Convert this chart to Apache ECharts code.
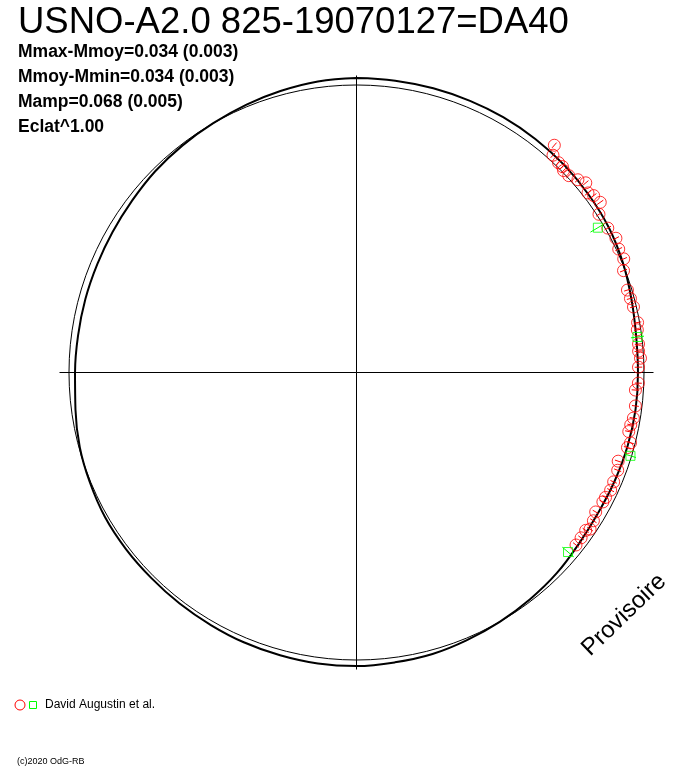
<!DOCTYPE html>
<html><head><meta charset="utf-8">
<script src="https://cdn.jsdelivr.net/npm/echarts@6/dist/echarts.min.js"></script>
<style>html,body{margin:0;padding:0;background:#fff;}#c{width:688px;height:768px;}</style>
</head><body><div id="c"></div>
<script>
// ---- texts ----
const titleText = 'USNO-A2.0 825-19070127=DA40';
const statLines = ['Mmax-Mmoy=0.034 (0.003)', 'Mmoy-Mmin=0.034 (0.003)', 'Mamp=0.068 (0.005)', 'Eclat^1.00'];
const legendLabel = 'David Augustin et al.';
const copyright = '(c)2020 OdG-RB';
const watermark = 'Provisoire';

// ---- fitted light curve (phase, relative brightness) ----
const lcPhase  = [0, 0.021, 0.042, 0.063, 0.083, 0.104, 0.125, 0.146, 0.167, 0.188, 0.208, 0.229,
                  0.25, 0.271, 0.292, 0.313, 0.333, 0.354, 0.375, 0.396, 0.417, 0.438, 0.458, 0.479,
                  0.5, 0.521, 0.542, 0.563, 0.583, 0.604, 0.625, 0.646, 0.667, 0.688, 0.708, 0.729,
                  0.75, 0.771, 0.792, 0.813, 0.833, 0.854, 0.875, 0.896, 0.917, 0.938, 0.958, 0.979, 1.0];
const lcBright = [1.024, 1.024, 1.024, 1.024, 1.024, 1.023, 1.021, 1.017, 1.012, 1.002, 0.990, 0.981,
                  0.979, 0.979, 0.977, 0.974, 0.972, 0.976, 0.986, 0.993, 1.000, 1.007, 1.014, 1.017,
                  1.021, 1.021, 1.019, 1.017, 1.014, 1.012, 1.010, 1.010, 1.009, 1.003, 0.997, 0.986,
                  0.979, 0.977, 0.977, 0.977, 0.979, 0.983, 0.990, 0.995, 1.000, 1.007, 1.014, 1.021, 1.024];

// ---- observations (red circles) ----
const redPhase  = [0.114, 0.117, 0.122, 0.125, 0.127, 0.131, 0.136, 0.140, 0.145, 0.148, 0.153, 0.158,
                   0.167, 0.174, 0.180, 0.186, 0.192, 0.203, 0.208, 0.213, 0.222, 0.226, 0.234, 0.238,
                   0.242, 0.247, 0.256, 0.260, 0.269, 0.276, 0.280, 0.284, 0.290, 0.293, 0.302, 0.307,
                   0.314, 0.319, 0.324, 0.327, 0.334, 0.339, 0.344, 0.346, 0.351, 0.356];
const redBright = [1.048, 1.019, 1.013, 1.013, 1.006, 1.007, 1.021, 1.035, 1.019, 1.029, 1.034, 1.007,
                   1.008, 1.016, 1.008, 1.010, 0.994, 0.985, 0.987, 0.990, 0.993, 0.988, 0.986, 0.984,
                   0.989, 0.981, 0.981, 0.972, 0.977, 0.976, 0.971, 0.969, 0.984, 0.978, 0.961, 0.970,
                   0.972, 0.974, 0.969, 0.968, 0.963, 0.972, 0.978, 0.968, 0.970, 0.971];
const redErr    = [0.012, 0.012, 0.013, 0.012, 0.013, 0.012, 0.013, 0.012, 0.014, 0.012, 0.013, 0.012,
                   0.013, 0.012, 0.013, 0.012, 0.013, 0.012, 0.013, 0.012, 0.013, 0.012, 0.013, 0.014,
                   0.012, 0.013, 0.012, 0.013, 0.012, 0.013, 0.012, 0.013, 0.012, 0.013, 0.012, 0.013,
                   0.012, 0.013, 0.012, 0.013, 0.012, 0.013, 0.012, 0.013, 0.012, 0.013];

// ---- observations (green squares) ----
const greenPhase  = [0.164, 0.230, 0.297, 0.362];
const greenBright = [0.979, 0.985, 0.996, 0.965];
const greenErr    = [0.030, 0.023, 0.020, 0.026];

// ---- axes ----
const phaseMin = 0, phaseMax = 1, phaseStep = 0.25;
const brightMax = 1.033;   // outer edge of the crosshair
const refBright = 1;       // reference circle

const CX = 356.5, CY = 372.5, ROUT = 297;
const RREF = ROUT * refBright / brightMax;

const chart = echarts.init(document.getElementById('c'), null, {renderer: 'canvas'});

const lcData = lcPhase.map((p, i) => [lcBright[i], p]);
const redData = redPhase.map((p, i) => [redBright[i], p, redErr[i]]);
const greenData = greenPhase.map((p, i) => [greenBright[i], p, greenErr[i]]);

function errBar(color) {
  return function (params, api) {
    const v = api.value(0), p = api.value(1), e = api.value(2);
    const a = api.coord([v - e, p]);
    const b = api.coord([v + e, p]);
    return {type: 'line', shape: {x1: a[0], y1: a[1], x2: b[0], y2: b[1]},
            style: {stroke: color, lineWidth: 1}};
  };
}

const hidden = {axisLine: {show: false}, axisTick: {show: false}, axisLabel: {show: false}};

const font = '"Liberation Sans", Arial, sans-serif';

chart.setOption({
  backgroundColor: '#ffffff',
  animation: false,
  polar: [
    {center: [CX, CY], radius: ROUT},
    {center: [CX, CY], radius: RREF}
  ],
  angleAxis: [
    Object.assign({polarIndex: 0, type: 'value', min: phaseMin, max: phaseMax, interval: phaseStep,
      startAngle: 90, clockwise: true,
      splitLine: {show: true, lineStyle: {color: '#000', width: 1}}}, hidden),
    {polarIndex: 1, type: 'value', min: phaseMin, max: phaseMax, interval: phaseStep,
      startAngle: 90, clockwise: true,
      axisLine: {show: true, lineStyle: {color: '#000', width: 1}},
      axisTick: {show: false}, axisLabel: {show: false}, splitLine: {show: false}}
  ],
  radiusAxis: [
    Object.assign({polarIndex: 0, type: 'value', min: 0, max: brightMax, splitLine: {show: false}}, hidden),
    Object.assign({polarIndex: 1, type: 'value', min: 0, max: refBright, splitLine: {show: false}}, hidden)
  ],
  series: [
    {type: 'line', coordinateSystem: 'polar', polarIndex: 0, data: lcData, smooth: 0.4,
     symbol: 'none', lineStyle: {color: '#000', width: 2}, z: 2, silent: true},
    {type: 'custom', coordinateSystem: 'polar', polarIndex: 0, data: redData,
     renderItem: errBar('#ff0000'), z: 3, silent: true},
    {type: 'custom', coordinateSystem: 'polar', polarIndex: 0, data: greenData,
     renderItem: errBar('#00ff00'), z: 3, silent: true},
    {type: 'scatter', coordinateSystem: 'polar', polarIndex: 0, data: redData, clip: false,
     symbol: 'circle', symbolSize: 12,
     itemStyle: {color: 'rgba(0,0,0,0)', borderColor: '#ff0000', borderWidth: 1}, z: 4, silent: true},
    {type: 'scatter', coordinateSystem: 'polar', polarIndex: 0, data: greenData, clip: false,
     symbol: 'rect', symbolSize: 9,
     itemStyle: {color: 'rgba(0,0,0,0)', borderColor: '#00ff00', borderWidth: 1}, z: 4, silent: true}
  ],
  graphic: [
    {type: 'text', x: 18, y: 23, style: {text: titleText, font: '36.5px ' + font, fill: '#000',
      align: 'left', verticalAlign: 'middle'}},
    ...statLines.map((t, i) => ({type: 'text', x: 18, y: 52 + 25 * i,
      style: {text: t, font: 'bold 17.5px ' + font, fill: '#000', align: 'left', verticalAlign: 'middle'}})),
    {type: 'circle', shape: {cx: 20, cy: 705, r: 5}, style: {fill: 'none', stroke: '#ff0000', lineWidth: 1}},
    {type: 'rect', shape: {x: 29.5, y: 701.5, width: 7, height: 7}, style: {fill: 'none', stroke: '#00ff00', lineWidth: 1}},
    {type: 'text', x: 45, y: 705, style: {text: legendLabel, font: '12px ' + font, fill: '#000',
      align: 'left', verticalAlign: 'middle'}},
    {type: 'text', x: 17, y: 762, style: {text: copyright, font: '9px ' + font, fill: '#000',
      align: 'left', verticalAlign: 'middle'}},
    {type: 'text', x: 624, y: 615, rotation: 44 * Math.PI / 180,
      style: {text: watermark, font: '24px ' + font, fill: '#000', align: 'center', verticalAlign: 'middle'}}
  ]
});
</script>
</body></html>
